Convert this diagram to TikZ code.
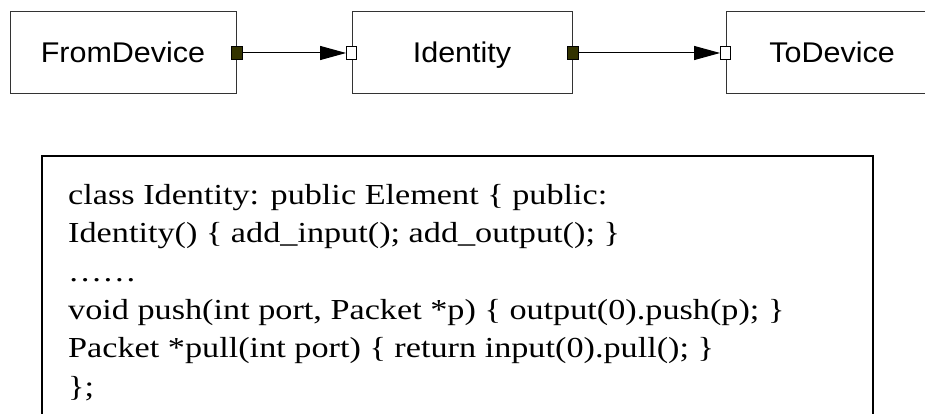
\documentclass[tikz,border=0pt]{standalone}
\usepackage{fontspec}
\newfontfamily\codefont[FakeStretch=1.18]{Liberation Serif}
\newfontfamily\elemfont[FakeStretch=1.07]{Liberation Sans}
\usepackage{tikz}
\usetikzlibrary{arrows.meta}
\usetikzlibrary{positioning}

\definecolor{portdark}{RGB}{51,51,0}
\definecolor{boxline}{RGB}{51,51,51}

\begin{document}
\begin{tikzpicture}[x=1pt, y=-1pt,
		element/.style={draw=boxline, line width=1pt, rectangle, minimum height=82pt, inner sep=0pt, text height=20pt, text depth=0pt, font=\elemfont\fontsize{28.5}{34}\selectfont},
		outport/.style={draw=black, line width=0.8pt, fill=portdark, minimum width=11pt, minimum height=13pt, inner sep=0pt},
		inport/.style={draw=black, line width=0.8pt, fill=white, minimum width=10pt, minimum height=13pt, inner sep=0pt},
		flow/.style={line width=1pt, -{Triangle[length=26pt, width=14pt]}},
		codeframe/.style={line width=2pt}]
			\useasboundingbox (0,0) rectangle (925,414);

			\node[element, minimum width=226pt] (fromdev) at (123,53) {FromDevice};
			\node[element, minimum width=220pt] (identity) at (462,53) {Identity};
			\node[element, minimum width=212pt] (todev) at (832,53) {ToDevice};

			\node[outport] (fromdevout) at (fromdev.east) {};
			\node[inport] (identityin) at (identity.west) {};
			\node[outport] (identityout) at (identity.east) {};
			\node[inport] (todevin) at (todev.west) {};

			\path[draw, flow] (fromdevout) -- (identityin);
			\path[draw, flow] (identityout) -- (todevin);

			\draw[codeframe] (42,440) -- (42,156) -- (873,156) -- (873,440);
			\node[anchor=north west, align=left, inner sep=0pt, font=\codefont\fontsize{29}{38.4}\selectfont] (code) at (68,184) {class Identity: public Element \{ public:\\
				Identity() \{ add\_input(); add\_output(); \}\\
				……\\
				void push(int port, Packet *p) \{ output(0).push(p); \}\\
				Packet *pull(int port) \{ return input(0).pull(); \}\\
				\};};
		\end{tikzpicture}
\end{document}
